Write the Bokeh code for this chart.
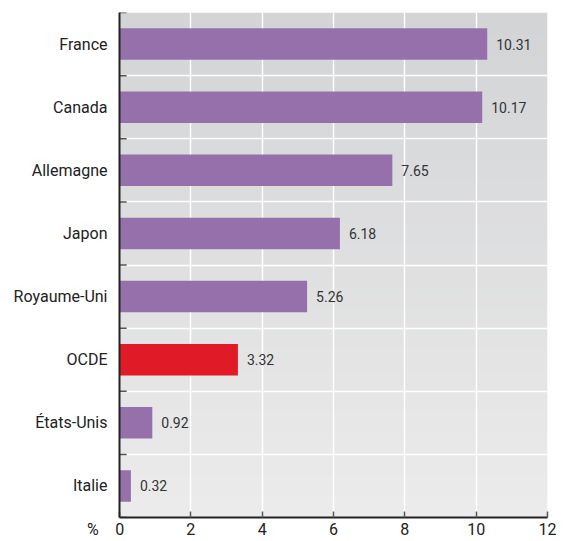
import numpy as np
from bokeh.plotting import figure
from bokeh.models import ColumnDataSource, FixedTicker, Range1d
from bokeh.core.properties import value
from bokeh.embed import file_html
from bokeh.resources import INLINE

# Data
countries = ["France", "Canada", "Allemagne", "Japon", "Royaume-Uni", "OCDE", "États-Unis", "Italie"]
rates = [10.31, 10.17, 7.65, 6.18, 5.26, 3.32, 0.92, 0.32]
highlight = "OCDE"
x_ticks = [0, 2, 4, 6, 8, 10, 12]
unit = "%"

FONT = "Roboto"
PURPLE = "#9670ab"
RED = "#e01a27"

n = len(countries)
centers = [n - i - 0.5 for i in range(n)]
colors = [RED if c == highlight else PURPLE for c in countries]
labels = [f"{v:.2f}" for v in rates]

src = ColumnDataSource(dict(y=centers, v=rates, c=colors, lab=labels))

p = figure(width=563, height=541, output_backend="svg", toolbar_location=None,
           x_range=Range1d(0, 12), y_range=Range1d(0, n),
           min_border_left=119, min_border_right=16, min_border_top=12, min_border_bottom=23)
p.outline_line_color = None
p.background_fill_color = "white"
p.border_fill_color = "white"

# vertical gradient behind the bars
h = 256
grad = np.linspace(0, 1, h)
top = np.array([211, 212, 214])
bot = np.array([236, 236, 236])
img = np.empty((h, 1), dtype=np.uint32)
view = img.view(dtype=np.uint8).reshape((h, 1, 4))
for k in range(h):
    col = bot + (top - bot) * grad[k]
    view[k, 0, :3] = col.astype(np.uint8)
    view[k, 0, 3] = 255
p.image_rgba(image=[img], x=0, y=0, dw=12, dh=n, level="image")

# grid: verticals at x ticks, horizontals between categories
p.xgrid.ticker = FixedTicker(ticks=x_ticks)
p.xgrid.grid_line_color = "white"
p.xgrid.grid_line_width = 1.5
p.ygrid.ticker = FixedTicker(ticks=list(range(n + 1)))
p.ygrid.grid_line_color = "white"
p.ygrid.grid_line_width = 1.5

p.hbar(y="y", right="v", left=0, height=0.5, fill_color="c", line_color=None, source=src)
p.text(x="v", y="y", text="lab", source=src, x_offset=9, text_baseline="middle",
       text_font=value(FONT), text_font_size="14px", text_color="#333333")

# small separator ticks on the category axis
sep = list(range(n + 1))
p.segment(x0=[0] * len(sep), y0=sep, x1=[0.2] * len(sep), y1=sep, line_color="#555555", line_width=1.5)

# x axis; the unit sign sits in the first tick label, padded so the zero stays centred
xa = p.xaxis[0]
xa.ticker = FixedTicker(ticks=x_ticks)
xa.major_label_overrides = {0: unit + "\u2002\u2002" + "0" + "\u2002\u2002\u2002\u2009"}
xa.major_tick_in = 6
xa.major_tick_out = 0
xa.minor_tick_line_color = None
xa.axis_line_color = "#222222"
xa.axis_line_width = 2
xa.major_tick_line_color = "#555555"
xa.major_tick_line_width = 1.5
xa.major_label_text_font = FONT
xa.major_label_text_font_size = "16px"
xa.major_label_text_color = "#222222"
xa.major_label_standoff = 2

# y axis with category names at band centers
ya = p.yaxis[0]
ya.ticker = FixedTicker(ticks=centers)
ya.major_label_overrides = {c: name for c, name in zip(centers, countries)}
ya.major_tick_in = 0
ya.major_tick_out = 0
ya.minor_tick_line_color = None
ya.axis_line_color = "#222222"
ya.axis_line_width = 2
ya.major_label_text_font = FONT
ya.major_label_text_font_size = "16px"
ya.major_label_text_color = "#222222"
ya.major_label_standoff = 12

open("out.html", "w").write(file_html(p, INLINE))
